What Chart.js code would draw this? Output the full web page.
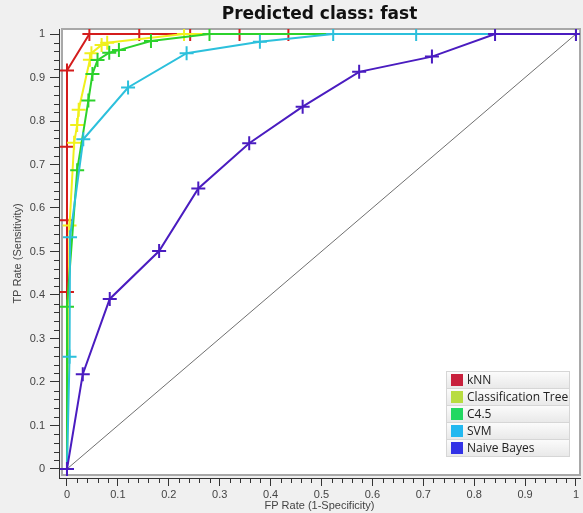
<!DOCTYPE html>
<html>
<head>
<meta charset="utf-8">
<script src="https://cdn.jsdelivr.net/npm/chart.js@4/dist/chart.umd.min.js"></script>
<style>
  body { margin: 0; background: #f0f0f0; }
  #wrap { position: relative; width: 583px; height: 513px; }
  #legend { position: absolute; left: 446px; top: 371px; width: 124px; font: 12px "Open Sans", sans-serif; color: #222; }
  #legend .row { height: 16px; line-height: 16px; border: 1px solid #d6d6d6; border-top: none; background: linear-gradient(#fbfbfb, #e9e9e9); position: relative; padding-left: 20px; white-space: nowrap; }
  #legend .row:first-child { border-top: 1px solid #d6d6d6; }
  #legend .sw { position: absolute; left: 4px; top: 2px; width: 12px; height: 12px; }
</style>
</head>
<body>
<div id="wrap">
  <canvas id="roc" width="583" height="513"></canvas>
  <div id="legend"></div>
</div>
<script>
// ROC curves, class "fast"
let names = ['kNN', 'Classification Tree', 'C4.5', 'SVM', 'Naive Bayes']
let legendColors = ['#c8203c', '#b8dc40', '#22d862', '#22b8f0', '#3232e6']
let lineColors = ['#d41c1c', '#f0f01c', '#2cd22c', '#2cc0dc', '#4a1cc0']

let knnX = [0, 0, 0, 0, 0, 0.044, 0.142, 0.242, 0.339, 0.435, 1]
let knnY = [0, 0.407, 0.572, 0.741, 0.916, 1, 1, 1, 1, 1, 1]
let treeX = [0, 0.005, 0.014, 0.02, 0.023, 0.045, 0.048, 0.068, 0.079, 0.23, 1]
let treeY = [0, 0.56, 0.75, 0.791, 0.826, 0.941, 0.956, 0.975, 0.98, 1, 1]
let c45X = [0, 0, 0.02, 0.042, 0.05, 0.06, 0.083, 0.102, 0.165, 0.28, 1]
let c45Y = [0, 0.373, 0.687, 0.847, 0.908, 0.94, 0.957, 0.963, 0.984, 1, 1]
let svmX = [0, 0.005, 0.006, 0.032, 0.12, 0.235, 0.379, 0.523, 0.686, 1]
let svmY = [0, 0.258, 0.533, 0.758, 0.877, 0.956, 0.982, 1, 1, 1]
let nbX = [0, 0.031, 0.084, 0.181, 0.258, 0.358, 0.463, 0.574, 0.717, 0.841, 1]
let nbY = [0, 0.218, 0.391, 0.501, 0.645, 0.749, 0.833, 0.913, 0.948, 1, 1]

let tickValues = [0, 0.1, 0.2, 0.3, 0.4, 0.5, 0.6, 0.7, 0.8, 0.9, 1]

const pts = (xs, ys) => xs.map((x, i) => ({ x: x, y: ys[i] }))
let series = [pts(knnX, knnY), pts(treeX, treeY), pts(c45X, c45Y), pts(svmX, svmY), pts(nbX, nbY)]

let datasets = series.map((d, i) => ({
  label: names[i],
  data: d,
  borderColor: lineColors[i],
  backgroundColor: lineColors[i],
  borderWidth: 2,
  pointStyle: 'cross',
  pointRadius: 7,
  pointBorderWidth: 2,
  order: 5 - i
}))
// chance diagonal
datasets.push({
  data: [{ x: 0, y: 0 }, { x: 1, y: 1 }],
  borderColor: '#707070',
  borderWidth: 1,
  pointRadius: 0,
  order: 10
})

// white plot box with grey frame, minor ticks
const framePlugin = {
  id: 'frame',
  beforeDraw(chart) {
    let a = chart.chartArea
    let ctx = chart.ctx
    ctx.save()
    ctx.fillStyle = '#ffffff'
    ctx.fillRect(a.left + 3, a.top, a.right - a.left - 3, a.bottom - a.top - 3)
    ctx.strokeStyle = '#a8a8a8'
    ctx.lineWidth = 2
    ctx.strokeRect(a.left + 3, a.top, a.right - a.left - 3, a.bottom - a.top - 3)
    ctx.restore()
  },
  afterDraw(chart) {
    let a = chart.chartArea
    let ctx = chart.ctx
    ctx.save()
    ctx.strokeStyle = '#333'
    ctx.lineWidth = 1
    ctx.beginPath()
    for (let k = 1; k < 50; k++) {
      if (k % 5 === 0) continue
      let v = k / 50
      let px = Math.round(chart.scales.x.getPixelForValue(v)) + 0.5
      ctx.moveTo(px, a.bottom)
      ctx.lineTo(px, a.bottom + 5)
      let py = Math.round(chart.scales.y.getPixelForValue(v)) + 0.5
      ctx.moveTo(a.left, py)
      ctx.lineTo(a.left - 5, py)
    }
    ctx.stroke()
    ctx.restore()
  }
}

const fixedTicks = (scale) => {
  scale.ticks = tickValues.map(v => ({ value: v }))
}
const fmt = (v) => (v === 0 || v === 1) ? String(v) : v.toFixed(1)

let tickFont = { family: '"Liberation Sans", Arial, sans-serif', size: 11 }

new Chart('roc', {
  type: 'line',
  data: { datasets: datasets },
  plugins: [framePlugin],
  options: {
    responsive: false,
    animation: false,
    layout: { autoPadding: false, padding: { right: 3 } },
    plugins: {
      legend: { display: false },
      tooltip: { enabled: false },
      title: {
        display: true,
        text: 'Predicted class: fast',
        fullSize: false,
        color: '#111',
        font: { family: '"DejaVu Sans", Verdana, sans-serif', size: 17, weight: 'bold' },
        padding: { top: 4, bottom: 4.6 }
      }
    },
    scales: {
      x: {
        type: 'linear',
        min: -0.0157,
        max: 1.0079,
        afterBuildTicks: fixedTicks,
        afterFit: (s) => { s.height = 35; s.paddingLeft = 0; s.paddingRight = 0 },
        grid: { drawOnChartArea: false, drawTicks: true, tickLength: 8, color: '#333' },
        border: { display: true, color: '#333', width: 1 },
        ticks: { color: '#444', font: tickFont, padding: 2, maxRotation: 0, callback: fmt },
        title: { display: true, text: 'FP Rate (1-Specificity)', color: '#444', font: tickFont, padding: { top: 0, bottom: 0 } }
      },
      y: {
        type: 'linear',
        min: -0.0207,
        max: 1.0115,
        afterBuildTicks: fixedTicks,
        afterFit: (s) => { s.width = 59; s.paddingTop = 0; s.paddingBottom = 0 },
        grid: { drawOnChartArea: false, drawTicks: true, tickLength: 9, color: '#333' },
        border: { display: true, color: '#333', width: 1 },
        ticks: { color: '#444', font: tickFont, padding: 5, callback: fmt },
        title: { display: true, text: 'TP Rate (Sensitivity)', color: '#444', font: tickFont, padding: { top: 11, bottom: 0 } }
      }
    }
  }
})

let legend = document.getElementById('legend')
names.forEach((n, i) => {
  let row = document.createElement('div')
  row.className = 'row'
  row.innerHTML = '<span class="sw" style="background:' + legendColors[i] + '"></span>' + n
  legend.appendChild(row)
})
</script>
</body>
</html>
